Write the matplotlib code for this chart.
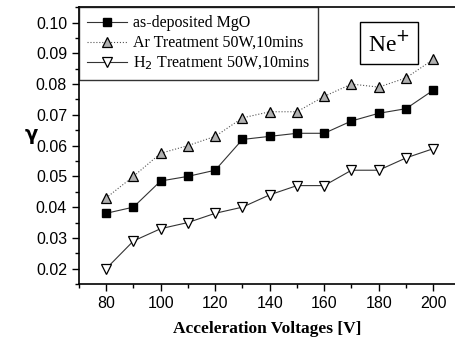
import numpy as np
import matplotlib.pyplot as plt
from matplotlib.ticker import MultipleLocator

# Data
voltages = [80, 90, 100, 110, 120, 130, 140, 150, 160, 170, 180, 190, 200]
gamma_asdep = [0.038, 0.040, 0.0485, 0.050, 0.052, 0.062, 0.063, 0.064, 0.064, 0.068, 0.0705, 0.072, 0.078]
gamma_ar = [0.043, 0.050, 0.0575, 0.060, 0.063, 0.069, 0.071, 0.071, 0.076, 0.080, 0.079, 0.082, 0.088]
gamma_h2 = [0.020, 0.029, 0.033, 0.035, 0.038, 0.040, 0.044, 0.047, 0.047, 0.052, 0.052, 0.056, 0.059]

serif = ['Liberation Serif', 'DejaVu Serif']
sans = ['Liberation Sans', 'DejaVu Sans']

fig = plt.figure(figsize=(4.56, 3.39), dpi=100)
ax = fig.add_axes([0.173, 0.162, 0.825, 0.817])

ax.plot(voltages, gamma_asdep, color='#333333', lw=0.8, ls='-', marker='s', ms=6,
        mfc='black', mec='black', label='as-deposited MgO')
ax.plot(voltages, gamma_ar, color='#555555', lw=0.8, ls=':', marker='^', ms=7,
        mfc='#b0b0b0', mec='black', mew=0.9, label='Ar Treatment 50W,10mins')
ax.plot(voltages, gamma_h2, color='#333333', lw=0.8, ls='-', marker='v', ms=7,
        mfc='white', mec='black', mew=0.9, label=r'H$_2$ Treatment 50W,10mins')

ax.set_xlim(70, 208)
ax.set_ylim(0.015, 0.105)
ax.xaxis.set_major_locator(MultipleLocator(20))
ax.xaxis.set_minor_locator(MultipleLocator(10))
ax.yaxis.set_major_locator(MultipleLocator(0.01))
ax.yaxis.set_minor_locator(MultipleLocator(0.005))
ax.yaxis.set_major_formatter(plt.FuncFormatter(lambda v, p: f'{v:.2f}'))
ax.tick_params(which='major', direction='out', length=5, width=1, labelsize=11.5)
ax.tick_params(which='minor', direction='out', length=3, width=1)
for lab in ax.get_xticklabels() + ax.get_yticklabels():
    lab.set_family(sans)
ax.spines['right'].set_visible(False)
for s in ['left', 'bottom', 'top']:
    ax.spines[s].set_linewidth(1.2)

ax.set_xlabel('Acceleration Voltages [V]', family=serif, fontweight='bold', fontsize=12.5, labelpad=7)
ax.set_ylabel(r'$\mathbf{\gamma}$', fontsize=14, rotation=0, labelpad=3)

leg = ax.legend(loc='upper left', borderaxespad=0, prop={'family': serif, 'size': 11.5},
                frameon=True, fancybox=False, handlelength=2.5, handletextpad=0.4,
                labelspacing=0.25, borderpad=0.5)
leg.get_frame().set_edgecolor('black')
leg.get_frame().set_linewidth(1.0)

ax.text(0.825, 0.87, r'Ne$^{+}$', transform=ax.transAxes, family=serif, fontsize=17,
        ha='center', va='center',
        bbox=dict(boxstyle='square,pad=0.35', fc='white', ec='black', lw=1))

fig.savefig('out.png', dpi=100)
